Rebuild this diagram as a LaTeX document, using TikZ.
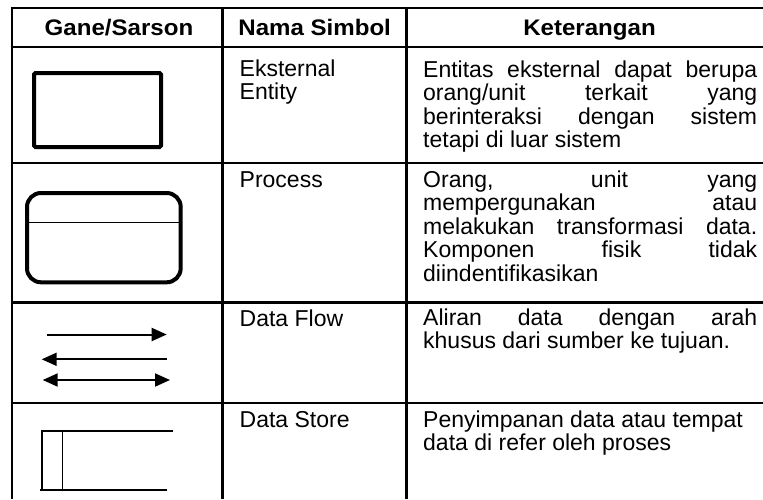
\documentclass[tikz,border=0pt]{standalone}
\usepackage{fontspec}
\setmainfont[BoldFeatures={FakeStretch=1.07}]{Liberation Sans}
\usetikzlibrary{arrows.meta}

% one justified line of the description column
\newlength{\desccolw}
\setlength{\desccolw}{334pt}
\newcommand{\jline}[1]{\makebox[\desccolw][s]{#1}}
% stacked lines whose baseline is that of the first line
\newcommand{\stackedlines}[1]{\begin{tabular}[t]{@{}l@{}}#1\end{tabular}}

\tikzset{
  tablerule/.style={line width=2.5pt},
  hdrtext/.style={anchor=base, font=\bfseries\fontsize{22.5}{23}\selectfont, inner sep=0pt},
  symtext/.style={anchor=base west, font=\fontsize{23}{23}\selectfont, inner sep=0pt},
  desctext/.style={anchor=base west, font=\fontsize{23}{23}\selectfont, inner sep=0pt},
  thicksym/.style={line width=4pt},
  flowline/.style={line width=2pt, -{Triangle[length=15pt,width=13pt]}},
  bothflow/.style={line width=2pt, {Triangle[length=15pt,width=13pt]}-{Triangle[length=15pt,width=13pt]}},
  storeline/.style={line width=1.6pt},
}

\begin{document}
\begin{tikzpicture}[x=1pt,y=-1pt]
\useasboundingbox (0,0) rectangle (763,499);

% table rules
\draw[tablerule] (10.7,8) -- (763,8);
\draw[tablerule] (10.7,47) -- (763,47);
\draw[tablerule] (10.7,163) -- (763,163);
\draw[tablerule] (10.7,302.5) -- (763,302.5);
\draw[tablerule] (10.7,403) -- (763,403);
\draw[tablerule] (12,8) -- (12,499);
\draw[tablerule] (222.7,8) -- (222.7,499);
\draw[tablerule] (406.7,8) -- (406.7,499);

% header
\node[hdrtext] (h1) at (119,35.5) {Gane/Sarson};
\node[hdrtext] (h2) at (314.7,35.5) {Nama Simbol};
\node[hdrtext] (h3) at (589.5,35.5) {Keterangan};

% symbol names
\node[symtext] (n1) at (239.5,76) {\stackedlines{Eksternal\\Entity}};
\node[symtext] (n2) at (239.5,187) {Process};
\node[symtext] (n3) at (239.5,326.5) {Data Flow};
\node[symtext] (n4) at (239.5,427) {Data Store};

% descriptions
\node[desctext] (d1) at (423,77) {\stackedlines{\jline{Entitas eksternal dapat berupa}\\
  \jline{orang/unit terkait yang}\\
  \jline{berinteraksi dengan sistem}\\
  tetapi di luar sistem}};
\node[desctext] (d2) at (423,187) {\stackedlines{\jline{Orang, unit yang}\\
  \jline{mempergunakan atau}\\
  \jline{melakukan transformasi data.}\\
  \jline{Komponen fisik tidak}\\
  diindentifikasikan}};
\node[desctext] (d3) at (423,325) {\stackedlines{\jline{Aliran data dengan arah}\\
  khusus dari sumber ke tujuan.}};
\node[desctext] (d4) at (423,427) {\stackedlines{Penyimpanan data atau tempat\\
  data di refer oleh proses}};

% external entity
\draw[thicksym, rounded corners=1.5pt] (34,73) rectangle (161,147);

% process
\draw[thicksym, rounded corners=14pt] (27,193) rectangle (180.7,282.3);
\draw[line width=1.5pt] (29,222.3) -- (178.7,222.3);

% data flows
\coordinate (f1a) at (46.7,334.5);
\coordinate (f1b) at (166.7,334.5);
\coordinate (f2a) at (166.7,359.3);
\coordinate (f2b) at (41.7,359.3);
\coordinate (f3a) at (42.7,380);
\coordinate (f3b) at (170,380);
\draw[flowline] (f1a) -- (f1b);
\draw[flowline] (f2a) -- (f2b);
\draw[bothflow] (f3a) -- (f3b);

% data store
\draw[storeline] (173.3,430.7) -- (41.7,430.7) -- (41.7,490);
\draw[storeline] (40,490) -- (166.7,490);
\draw[storeline] (62.3,430.7) -- (62.3,490);
\end{tikzpicture}
\end{document}
